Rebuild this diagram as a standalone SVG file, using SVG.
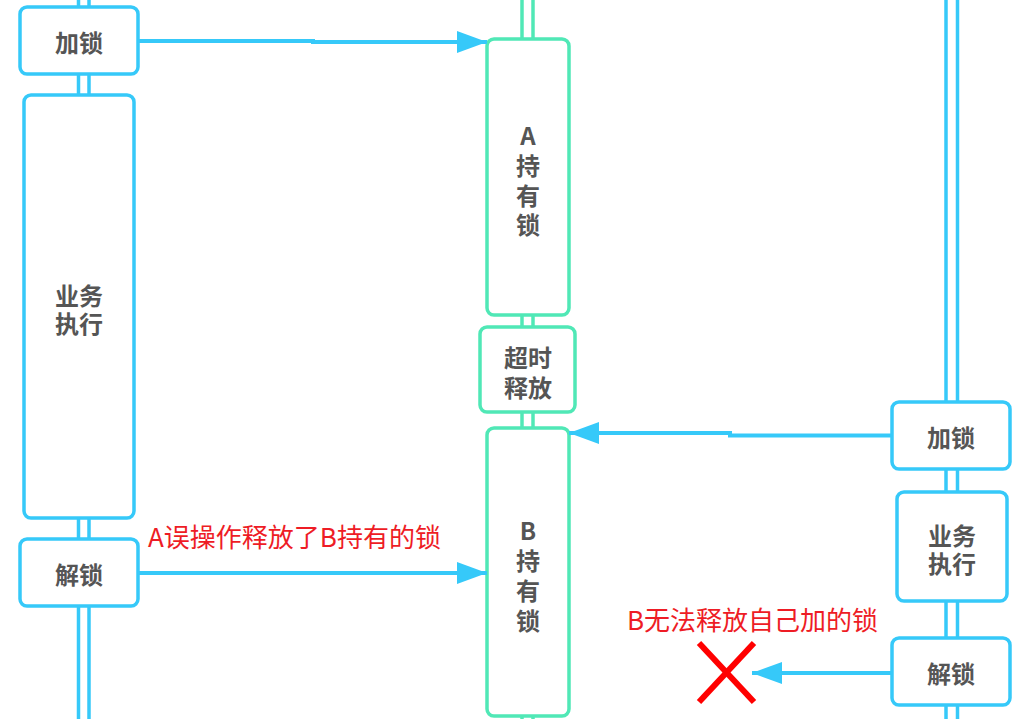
<svg xmlns="http://www.w3.org/2000/svg" width="1020" height="719" viewBox="0 0 1020 719">
  <defs>
    <style>
      .lane-b { stroke: #36C9F9; stroke-width: 3.5; fill: none; }
      .lane-g { stroke: #50E8B6; stroke-width: 3.5; fill: none; }
      .box-b { fill: #FFFFFF; stroke: #36C9F9; stroke-width: 3.5; }
      .box-g { fill: #FFFFFF; stroke: #50E8B6; stroke-width: 3.5; }
      .lbl { font-family: "Noto Sans CJK SC", "Noto Sans", sans-serif; font-weight: bold; font-size: 24px; fill: #555555; text-anchor: middle; dominant-baseline: central; }
      .note { font-family: "Noto Sans CJK SC", "Noto Sans", sans-serif; font-size: 26px; fill: #EE1C25; dominant-baseline: central; }
      .conn { stroke: #36C9F9; stroke-width: 4; fill: none; }
      .xmark { stroke: #FF0000; stroke-width: 6; }
    </style>
    <marker id="arrow" markerUnits="userSpaceOnUse" markerWidth="30" markerHeight="22" refX="30" refY="11" orient="auto">
      <path d="M0,0 L30,11 L0,22 Z" fill="#36C9F9"/>
    </marker>
  </defs>
  <rect width="1020" height="719" fill="#FFFFFF"/>

  <g id="lanes">
    <line class="lane-b" x1="78.5" y1="0" x2="78.5" y2="719"/>
    <line class="lane-b" x1="89" y1="0" x2="89" y2="719"/>
    <line class="lane-g" x1="522" y1="0" x2="522" y2="719"/>
    <line class="lane-g" x1="533" y1="0" x2="533" y2="719"/>
    <line class="lane-b" x1="946" y1="0" x2="946" y2="719"/>
    <line class="lane-b" x1="957.5" y1="0" x2="957.5" y2="719"/>
  </g>

  <g id="a-lock">
    <rect class="box-b" x="20" y="7" width="118" height="67" rx="7"/>
    <text class="lbl" x="79" y="41">加锁</text>
  </g>
  <g id="a-business">
    <rect class="box-b" x="24" y="95" width="110" height="423" rx="7"/>
    <text class="lbl"><tspan x="79" y="294">业务</tspan><tspan x="79" y="322">执行</tspan></text>
  </g>
  <g id="a-unlock">
    <rect class="box-b" x="20" y="539" width="118" height="67" rx="7"/>
    <text class="lbl" x="79" y="573">解锁</text>
  </g>

  <g id="a-holds">
    <rect class="box-g" x="487" y="39" width="82" height="276" rx="7"/>
    <text class="lbl"><tspan x="528" y="134">A</tspan><tspan x="528" y="164">持</tspan><tspan x="528" y="194">有</tspan><tspan x="528" y="223">锁</tspan></text>
  </g>
  <g id="timeout-release">
    <rect class="box-g" x="480" y="327" width="95" height="85" rx="7"/>
    <text class="lbl"><tspan x="528" y="356">超时</tspan><tspan x="528" y="386">释放</tspan></text>
  </g>
  <g id="b-holds">
    <rect class="box-g" x="487" y="428" width="82" height="288" rx="7"/>
    <text class="lbl"><tspan x="528" y="529">B</tspan><tspan x="528" y="559">持</tspan><tspan x="528" y="589">有</tspan><tspan x="528" y="619">锁</tspan></text>
  </g>

  <g id="b-lock">
    <rect class="box-b" x="892" y="402" width="118" height="67" rx="7"/>
    <text class="lbl" x="951" y="436">加锁</text>
  </g>
  <g id="b-business">
    <rect class="box-b" x="897" y="492" width="110" height="109" rx="7"/>
    <text class="lbl"><tspan x="952" y="534">业务</tspan><tspan x="952" y="562">执行</tspan></text>
  </g>
  <g id="b-unlock">
    <rect class="box-b" x="892" y="638" width="118" height="67" rx="7"/>
    <text class="lbl" x="951" y="672">解锁</text>
  </g>

  <g id="connectors">
    <path class="conn" d="M138,41 H313 V42 H487" marker-end="url(#arrow)"/>
    <path class="conn" d="M892,435.5 H730 V433 H569" marker-end="url(#arrow)"/>
    <path class="conn" d="M138,573 H487" marker-end="url(#arrow)"/>
    <path class="conn" d="M892,673 H752" marker-end="url(#arrow)"/>
  </g>

  <g id="x-mark">
    <line class="xmark" x1="699" y1="643" x2="754" y2="702"/>
    <line class="xmark" x1="754" y1="643" x2="699" y2="702"/>
  </g>

  <g id="notes">
    <text class="note" x="148" y="535">A误操作释放了B持有的锁</text>
    <text class="note" x="627" y="618">B无法释放自己加的锁</text>
  </g>
</svg>
